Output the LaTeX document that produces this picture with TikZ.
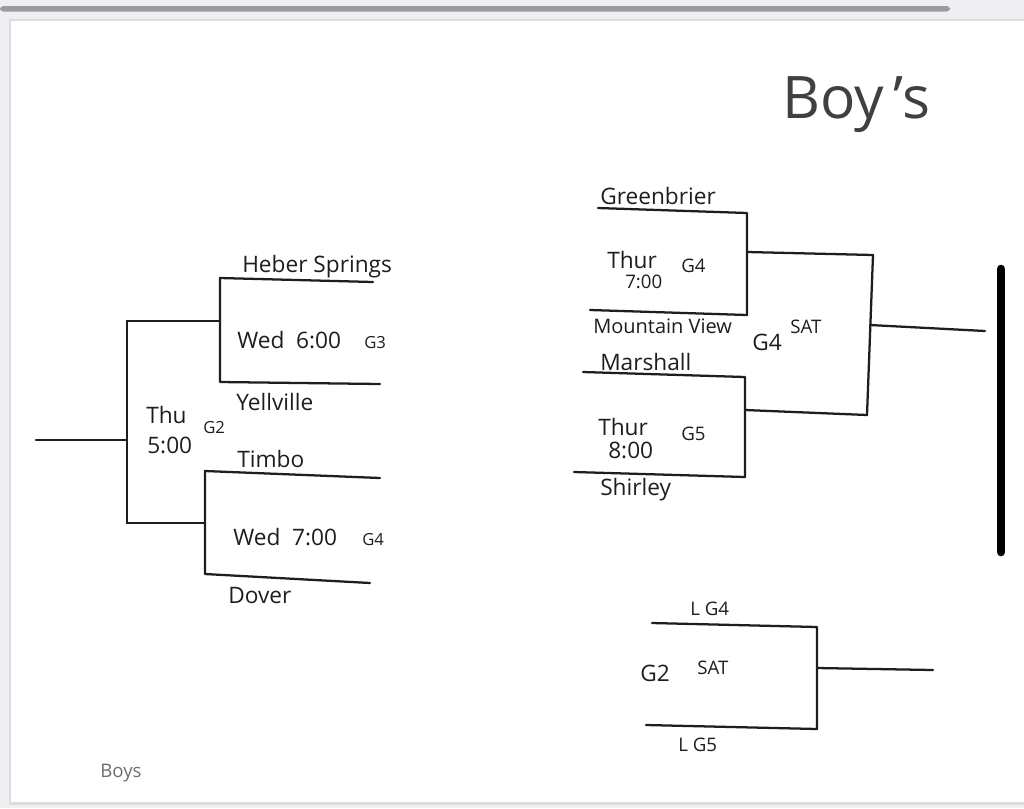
\documentclass[tikz,border=0pt]{standalone}
\usepackage{fontspec}
\setmainfont{Open Sans}
\definecolor{bgc}{HTML}{EFEEF3}
\definecolor{barc}{HTML}{9B9AA0}
\definecolor{shadowc}{HTML}{DCDBE0}
\definecolor{inkc}{HTML}{1E1E1E}
\definecolor{pencilc}{HTML}{6E6E6E}
\begin{document}
\begin{tikzpicture}[x=0.75pt,y=-0.75pt,
  ink/.style={draw=inkc, line width=1.7pt, line cap=round, line join=round},
  lbl/.style={anchor=base west, inner sep=0pt, text=inkc, font=\fontsize{17}{18}\selectfont},
  mid/.style={anchor=base west, inner sep=0pt, text=inkc, font=\fontsize{14}{15}\selectfont},
  sml/.style={anchor=base west, inner sep=0pt, text=inkc, font=\fontsize{12.5}{13}\selectfont}]
\useasboundingbox (0,0) rectangle (1024,808);
\fill[bgc] (0,0) rectangle (1024,808);
\fill[barc, rounded corners=2.5] (0,6) rectangle (950,11.5);
\fill[shadowc] (9,19) rectangle (1024,805);
\fill[white] (11,21) rectangle (1024,802);
% scroll bar
\coordinate (sbT) at (1001,269);
\coordinate (sbB) at (1001,552);
\draw[line width=6.5pt, line cap=round, black] (sbT) -- (sbB);

% ---------- left bracket ----------
\coordinate (lstub) at (36,440);
\coordinate (lmid) at (127,440);
\coordinate (lvt) at (127,321);
\coordinate (lvb) at (127,523);
\coordinate (a1) at (220,321);
\coordinate (a2) at (205,523);
\draw[ink] (lstub) -- (lmid);
\draw[ink] (lvt) -- (lvb);
\draw[ink] (lvt) -- (a1);
\draw[ink] (lvb) -- (a2);
% upper match
\coordinate (u1) at (373,282);
\coordinate (u2) at (220,278);
\coordinate (u3) at (220,382);
\coordinate (u4) at (380,384);
\draw[ink] (u1) -- (u2) -- (u3) -- (u4);
% lower match
\coordinate (d1) at (380,478);
\coordinate (d2) at (205,471);
\coordinate (d3) at (205,574);
\coordinate (d4) at (370,583);
\draw[ink] (d1) -- (d2) -- (d3) -- (d4);

\node[lbl] (heber) at (242,272) {Heber Springs};
\node[lbl] (wed6) at (237,348) {Wed\ \ 6:00};
\node[sml] (g3) at (364,348) {G3};
\node[lbl] (yell) at (236,410) {Yellville};
\node[lbl] (thu) at (146,423) {Thu};
\node[sml] (g2a) at (203,433) {G2};
\node[lbl] (five) at (147,453) {5:00};
\node[lbl] (timbo) at (237,467) {Timbo};
\node[lbl] (wed7) at (233,545) {Wed\ \ 7:00};
\node[sml] (g4a) at (362,545) {G4};
\node[lbl] (dover) at (228,603) {Dover};

% ---------- right bracket ----------
\coordinate (r1) at (598,208);
\coordinate (r2) at (747,213);
\coordinate (r3) at (747,315);
\coordinate (r4) at (590,310);
\draw[ink] (r1) -- (r2) -- (r3) -- (r4);
\coordinate (s1) at (583,372);
\coordinate (s2) at (745,377);
\coordinate (s3) at (745,477);
\coordinate (s4) at (574,472);
\draw[ink] (s1) -- (s2) -- (s3) -- (s4);
\coordinate (m1) at (747,252);
\coordinate (m2) at (873,255);
\coordinate (m3) at (867,415);
\coordinate (m4) at (745,410);
\draw[ink] (m1) -- (m2) -- (m3) -- (m4);
\coordinate (f1) at (870,325);
\coordinate (f2) at (985,331);
\draw[ink] (f1) -- (f2);

\node[lbl] (green) at (600,204) {Greenbrier};
\node[lbl] (thur4) at (607,268) {Thur};
\node[mid] (g4b) at (681,272) {G4};
\node[mid] (seven) at (625,288) {7:00};
\node[anchor=base west, inner sep=0pt, text=inkc, font=\fontsize{15}{16}\selectfont] (mview) at (593,333) {Mountain View};
\node[lbl] (g4c) at (752,350) {G4};
\node[mid] (sat1) at (790,333) {SAT};
\node[lbl] (marsh) at (600,370) {Marshall};
\node[lbl] (thur5) at (598,435) {Thur};
\node[mid] (g5) at (681,440) {G5};
\node[lbl] (eight) at (608,458) {8:00};
\node[lbl] (shirley) at (600,495) {Shirley};

% ---------- consolation ----------
\coordinate (c1) at (652,623);
\coordinate (c2) at (817,627);
\coordinate (c3) at (817,729);
\coordinate (c4) at (646,725);
\draw[ink] (c1) -- (c2) -- (c3) -- (c4);
\coordinate (cf1) at (817,668);
\coordinate (cf2) at (933,670);
\draw[ink] (cf1) -- (cf2);
\node[mid] (lg4) at (690,615) {L G4};
\node[lbl] (g2b) at (640,681) {G2};
\node[mid] (sat2) at (697,674) {SAT};
\node[mid] (lg5) at (678,751) {L G5};

% ---------- titles ----------
\node[anchor=base west, inner sep=0pt, text=inkc!85, font=\fontsize{44}{46}\selectfont] (title) at (782,118) {Boy\,'s};
\node[anchor=base west, inner sep=0pt, text=pencilc, font=\fontsize{14}{15}\selectfont] (boys) at (100,777) {Boys};
\end{tikzpicture}
\end{document}
